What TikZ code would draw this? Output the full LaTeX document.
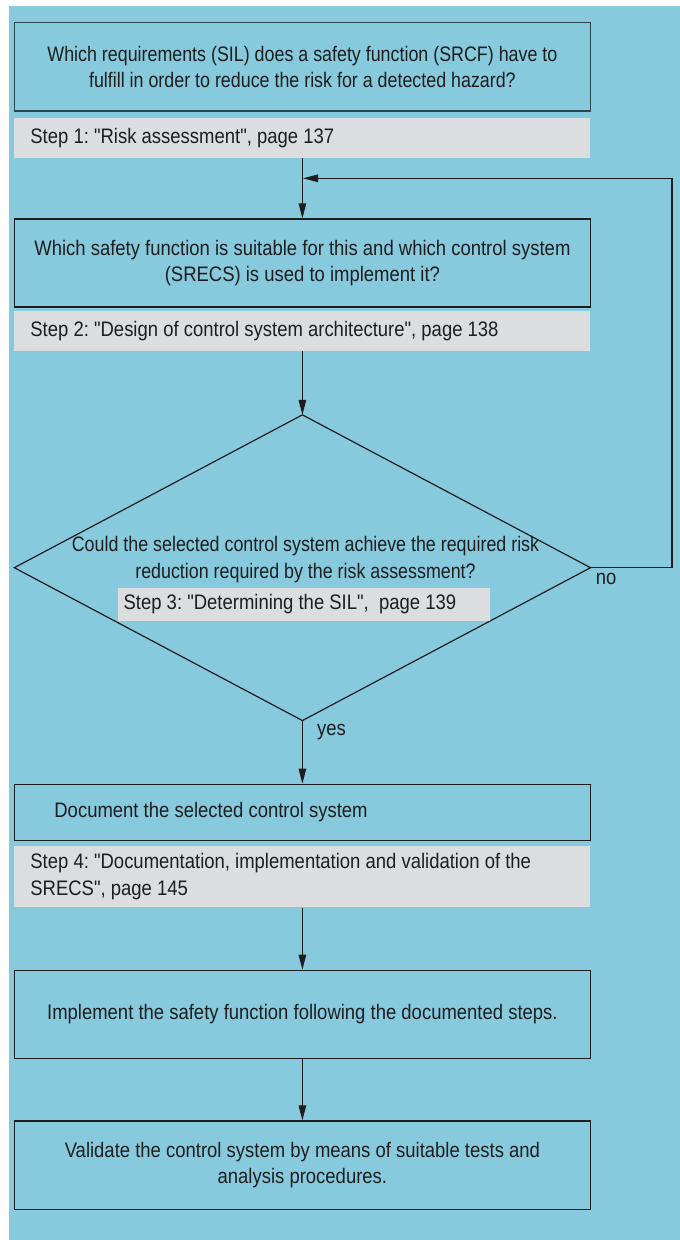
\documentclass[tikz,border=0pt]{standalone}
\usepackage{fontspec}
\setmainfont{Liberation Sans}[FakeStretch=0.88, Ligatures=TeXOff]
\newfontfamily\narrowfont{Liberation Sans}[FakeStretch=0.85, Ligatures=TeXOff]
\usetikzlibrary{arrows.meta,shapes.geometric}
\definecolor{bgblue}{HTML}{87C9DD}
\definecolor{stepgray}{HTML}{DCDDDF}
\definecolor{ink}{HTML}{1E1E1E}
\definecolor{slate}{HTML}{2E4650}
\begin{document}
\begin{tikzpicture}[x=1pt,y=-1pt,
  every node/.style={font=\fontsize{21}{26.7}\selectfont\frenchspacing, text=ink},
  qbox/.style={draw=ink, line width=1.3pt, minimum width=576pt, inner sep=0pt, align=center},
  leftbox/.style={draw=ink, line width=1.3pt, minimum width=576pt, text width=496pt, inner xsep=40pt, inner ysep=0pt, align=flush left},
  stepbox/.style={fill=stepgray, minimum width=576pt, text width=544pt, inner xsep=16pt, inner ysep=0pt, align=flush left},
  flow/.style={draw=ink, line width=1.2pt, -{Triangle[length=15pt,width=7.5pt]}},
  lbl/.style={inner sep=0pt, anchor=west}
]
\useasboundingbox (0,0) rectangle (680,1240);
\fill[white] (0,0) rectangle (680,1240);
\fill[bgblue] (9,6) rectangle (680,1240);

\node[qbox, draw=slate, minimum height=88.3pt] (box1) at (302.4,66.85)
  {\narrowfont Which requirements (SIL) does a safety function (SRCF) have to\\\narrowfont fulfill in order to reduce the risk for a detected hazard?};
\node[stepbox, minimum height=40pt] (step1) at (302.4,137.7)
  {Step 1: "Risk assessment", page 137};

\node[qbox, minimum height=88pt] (box2) at (302.4,263)
  {Which safety function is suitable for this and which control system\\(SRECS) is used to implement it?};
\node[stepbox, minimum height=39.7pt] (step2) at (302.4,330.85)
  {Step 2: "Design of control system architecture", page 138};

\node[diamond, draw=ink, line width=1.2pt, minimum width=576.2pt, minimum height=305.7pt,
  inner sep=0pt, outer sep=0pt] (dia) at (302.4,567.7) {};
\node[inner sep=0pt, align=center] (dtext) at (305.5,559.5)
  {\narrowfont Could the selected control system achieve the required risk\\\narrowfont reduction required by the risk assessment?};
\node[fill=stepgray, minimum width=371.3pt, minimum height=32.4pt, text width=361pt,
  inner xsep=5pt, inner ysep=0pt, align=flush left] (step3) at (304.1,604.5)
  {Step 3: "Determining the SIL",\ \ page 139};

\node[lbl] (no) at (595.7,579.3) {no};
\node[lbl] (yes) at (317,731.7) {yes};

\node[leftbox, minimum height=56pt] (box3) at (302.4,812.3)
  {Document the selected control system};
\node[stepbox, minimum height=61.3pt] (step4) at (302.4,876.65)
  {Step 4: "Documentation, implementation and validation of the\\SRECS", page 145};

\node[qbox, minimum height=88pt] (box4) at (302.4,1014.3)
  {Implement the safety function following the documented steps.};
\node[qbox, minimum height=88.3pt] (box5) at (302.4,1165.15)
  {Validate the control system by means of suitable tests and\\analysis procedures.};

\coordinate (loopR) at (672,178.3);
\coordinate (loopIn) at (303,178.3);

\draw[flow] (step1.south) -- (box2.north);
\draw[flow] (dia.east) -| (loopR) -- (loopIn);
\draw[flow] (step2.south) -- (dia.north);
\draw[flow] (dia.south) -- (box3.north);
\draw[flow] (step4.south) -- (box4.north);
\draw[flow] (box4.south) -- (box5.north);
\end{tikzpicture}
\end{document}
